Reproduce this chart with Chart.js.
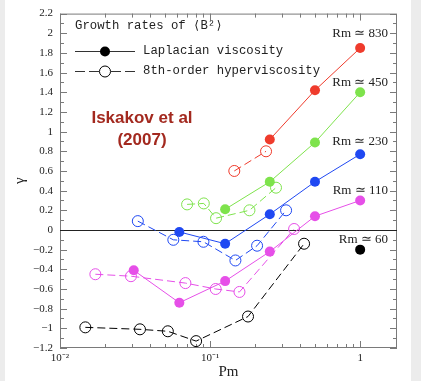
<!DOCTYPE html>
<html>
<head>
<meta charset="utf-8">
<script src="https://cdn.jsdelivr.net/npm/chart.js@4/dist/chart.umd.min.js"></script>
<style>
  html, body { margin: 0; padding: 0; background: #ececec; }
  #panel { position: absolute; left: 5px; top: 0; width: 406px; height: 381px; background: #fff; }
  #chart { position: absolute; left: 0; top: 0; }
</style>
</head>
<body>
<div id="panel"></div>
<canvas id="chart" width="421" height="381"></canvas>
<script>
// Laplacian viscosity (filled) and 8th-order hyperviscosity (open), per Rm
const pmRed = [0.25, 0.5, 1];
const gRed = [0.92, 1.42, 1.85];
const pmRedH = [0.145, 0.236];
const gRedH = [0.6, 0.8];

const pmGreen = [0.126, 0.25, 0.5, 1];
const gGreen = [0.21, 0.49, 0.89, 1.4];
const pmGreenH = [0.0703, 0.0908, 0.1096, 0.183, 0.275];
const gGreenH = [0.26, 0.27, 0.12, 0.2, 0.43];

const pmBlue = [0.0624, 0.126, 0.25, 0.5, 1];
const gBlue = [-0.02, -0.14, 0.16, 0.49, 0.77];
const pmBlueH = [0.033, 0.0569, 0.0903, 0.1475, 0.2057, 0.321];
const gBlueH = [0.09, -0.1, -0.12, -0.31, -0.16, 0.2];

const pmMag = [0.031, 0.0624, 0.126, 0.25, 0.5, 1];
const gMag = [-0.41, -0.74, -0.52, -0.22, 0.14, 0.3];
const pmMagH = [0.0172, 0.0297, 0.0685, 0.109, 0.157, 0.363];
const gMagH = [-0.45, -0.47, -0.54, -0.6, -0.63, 0.01];

const pmBlack = [1];
const gBlack = [-0.2];
const pmBlackH = [0.01475, 0.0341, 0.0523, 0.0807, 0.179, 0.423];
const gBlackH = [-0.99, -1.01, -1.03, -1.13, -0.88, -0.14];

const rmLabels = ['Rm \u2243 830', 'Rm \u2243 450', 'Rm \u2243 230', 'Rm \u2243 110', 'Rm \u2243 60'];
const rmLabelGamma = [2.0, 1.5, 0.9, 0.4, -0.1];

const xTickValues = [0.01, 0.1, 1];
const xTickLabels = ['10\u207B\u00B2', '10\u207B\u00B9', '1'];

const colors = {
    red: '#ef3b2c',
    green: '#7ee34c',
    blue: '#1f48f2',
    magenta: '#e64fe8',
    black: '#000000'
};

function pts(xs, ys) {
    return xs.map((x, i) => ({ x: x, y: ys[i] }));
}

function laplacian(xs, ys, color) {
    return {
        data: pts(xs, ys),
        borderColor: color,
        backgroundColor: color,
        borderWidth: 1,
        pointRadius: 5,
        pointBorderWidth: 0,
        pointBackgroundColor: color
    };
}

function hyper(xs, ys, color) {
    return {
        data: pts(xs, ys),
        borderColor: color,
        backgroundColor: 'transparent',
        borderWidth: 1,
        borderDash: [8, 4],
        pointRadius: 5.5,
        pointBorderWidth: 1,
        pointBorderColor: color,
        pointBackgroundColor: 'transparent'
    };
}

const axisColor = '#7a7a7a';

// frame, inward ticks, zero line, legend and labels
const decorations = {
    id: 'decorations',
    beforeDatasetsDraw(chart) {
        const { ctx, chartArea: a, scales: { x, y } } = chart;
        ctx.save();
        ctx.strokeStyle = axisColor;
        ctx.lineWidth = 1;
        ctx.strokeRect(a.left + 0.5, a.top + 0.5, a.right - a.left - 1, a.bottom - a.top - 1);

        ctx.beginPath();
        for (let i = -12; i <= 22; i++) {
            const py = Math.round(y.getPixelForValue(i / 10)) + 0.5;
            const len = i % 2 === 0 ? 7 : 4;
            ctx.moveTo(a.left, py); ctx.lineTo(a.left + len, py);
            ctx.moveTo(a.right, py); ctx.lineTo(a.right - len, py);
        }
        for (let d = -2; d <= 0; d++) {
            for (let m = 1; m <= 9; m++) {
                const v = m * Math.pow(10, d);
                if (v > x.max) continue;
                const px = Math.round(x.getPixelForValue(v)) + 0.5;
                const len = m === 1 ? 7 : 4;
                ctx.moveTo(px, a.bottom); ctx.lineTo(px, a.bottom - len);
                ctx.moveTo(px, a.top); ctx.lineTo(px, a.top + len);
            }
        }
        ctx.stroke();

        const y0 = Math.round(y.getPixelForValue(0)) + 0.5;
        ctx.strokeStyle = '#222';
        ctx.beginPath();
        ctx.moveTo(a.left, y0); ctx.lineTo(a.right, y0);
        ctx.stroke();
        ctx.restore();
    },
    afterDraw(chart) {
        const { ctx, chartArea: a, scales: { y } } = chart;
        ctx.save();
        ctx.fillStyle = '#222';
        ctx.textBaseline = 'middle';

        ctx.font = '12.3px "Liberation Mono", monospace';
        ctx.textAlign = 'left';
        ctx.fillText('Growth rates of \u27E8B\u00B2\u27E9', 75, 26);
        ctx.fillText('Laplacian viscosity', 143, 51);
        ctx.fillText('8th-order hyperviscosity', 143, 71);

        ctx.strokeStyle = '#333';
        ctx.lineWidth = 1;
        ctx.beginPath();
        ctx.moveTo(75, 51.5); ctx.lineTo(135, 51.5);
        ctx.stroke();
        ctx.beginPath();
        ctx.arc(105, 51.5, 5, 0, Math.PI * 2);
        ctx.fillStyle = '#000';
        ctx.fill();

        ctx.setLineDash([10, 4]);
        ctx.beginPath();
        ctx.moveTo(75, 71.5); ctx.lineTo(99, 71.5);
        ctx.moveTo(111, 71.5); ctx.lineTo(135, 71.5);
        ctx.stroke();
        ctx.setLineDash([]);
        ctx.beginPath();
        ctx.arc(105, 71.5, 5.5, 0, Math.PI * 2);
        ctx.strokeStyle = '#000';
        ctx.stroke();

        ctx.fillStyle = '#222';
        ctx.font = '13px "Liberation Serif", serif';
        ctx.textAlign = 'right';
        rmLabels.forEach((t, i) => {
            ctx.fillText(t, a.right - 9, y.getPixelForValue(rmLabelGamma[i]));
        });

        ctx.fillStyle = '#a3291f';
        ctx.font = 'bold 17px "Liberation Sans", Arial, sans-serif';
        ctx.textAlign = 'center';
        ctx.fillText('Iskakov et al', 142, 118);
        ctx.fillText('(2007)', 142, 140);
        ctx.restore();
    }
};

new Chart(document.getElementById('chart'), {
    type: 'line',
    data: {
        datasets: [
            laplacian(pmRed, gRed, colors.red),
            hyper(pmRedH, gRedH, colors.red),
            laplacian(pmGreen, gGreen, colors.green),
            hyper(pmGreenH, gGreenH, colors.green),
            laplacian(pmBlue, gBlue, colors.blue),
            hyper(pmBlueH, gBlueH, colors.blue),
            laplacian(pmMag, gMag, colors.magenta),
            hyper(pmMagH, gMagH, colors.magenta),
            laplacian(pmBlack, gBlack, colors.black),
            hyper(pmBlackH, gBlackH, colors.black)
        ]
    },
    options: {
        responsive: false,
        animation: false,
        layout: { padding: { top: 12, right: 24, left: 0, bottom: 0 } },
        plugins: { legend: { display: false }, tooltip: { enabled: false } },
        scales: {
            x: {
                type: 'logarithmic',
                min: 0.01,
                max: 1.76,
                grid: { display: false, drawTicks: false },
                border: { display: false },
                afterBuildTicks: s => { s.ticks = xTickValues.map(v => ({ value: v })); },
                afterFit: s => { s.height = 33; },
                ticks: {
                    autoSkip: false,
                    maxRotation: 0,
                    padding: 4,
                    color: '#222',
                    font: { family: '"Liberation Serif", serif', size: 11 },
                    callback: v => xTickLabels[xTickValues.indexOf(v)] ?? ''
                },
                title: {
                    display: true,
                    text: 'Pm',
                    color: '#222',
                    font: { family: '"Liberation Serif", serif', size: 15 },
                    padding: 0
                }
            },
            y: {
                min: -1.2,
                max: 2.2,
                grid: { display: false, drawTicks: false },
                border: { display: false },
                afterFit: s => { s.width = 60; },
                ticks: {
                    stepSize: 0.2,
                    padding: 7,
                    color: '#222',
                    font: { family: '"Liberation Serif", serif', size: 11 },
                    callback: v => {
                        const r = Math.round(v * 10) / 10;
                        return (r < 0 ? '\u2212' : '') + String(Math.abs(r));
                    }
                },
                title: {
                    display: true,
                    text: '\u03B3',
                    color: '#222',
                    font: { family: '"Liberation Serif", serif', size: 15 },
                    padding: { top: 11, bottom: 0 }
                }
            }
        }
    },
    plugins: [decorations]
});
</script>
</body>
</html>
